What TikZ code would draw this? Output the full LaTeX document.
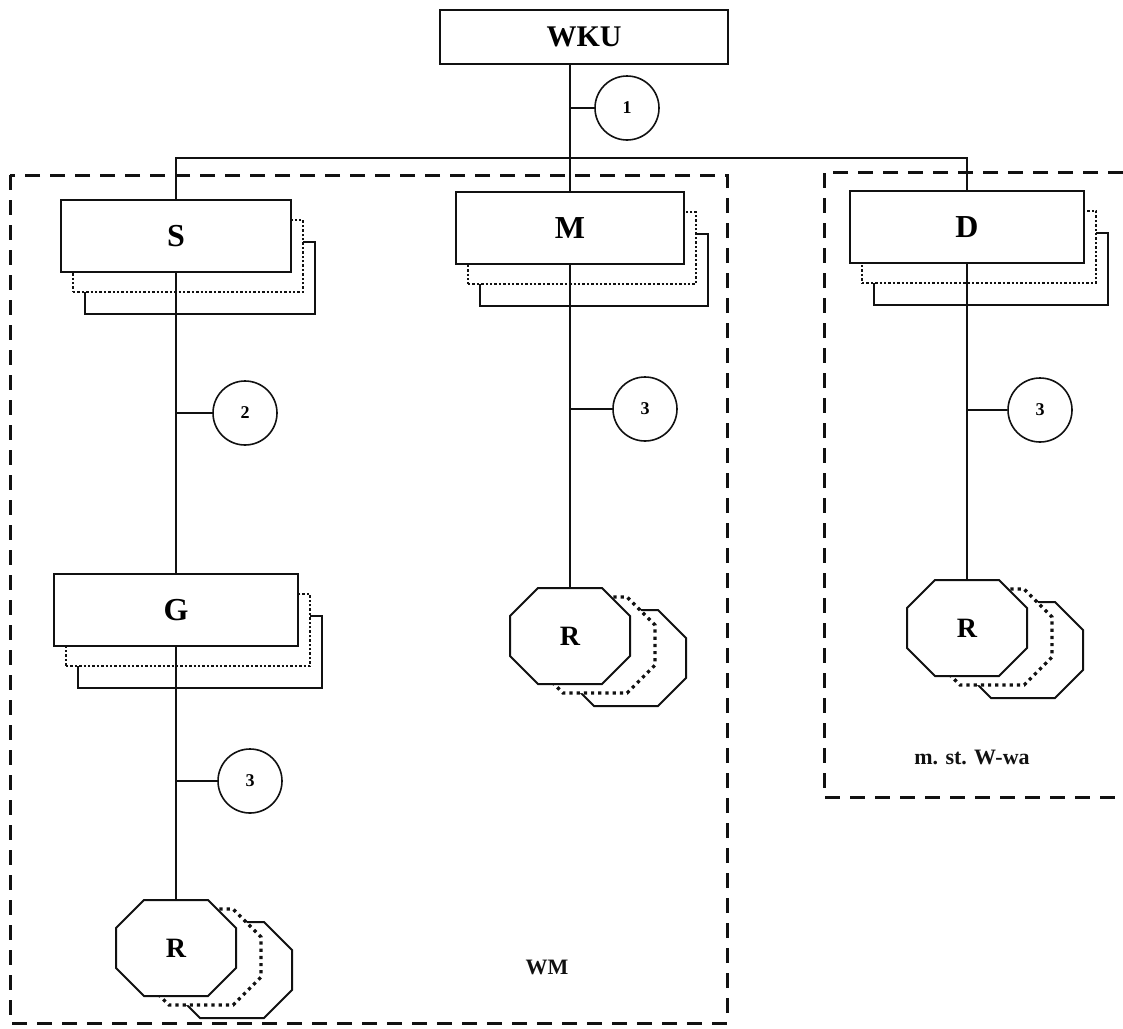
\documentclass[tikz,border=0pt]{standalone}
\usepackage{fontspec}
\setmainfont{Liberation Serif}
\usetikzlibrary{positioning,calc}
\definecolor{cInk}{HTML}{111111}
\tikzset{
  unit/.style={draw=cInk, line width=0.8pt, fill=white, minimum width=116pt,
               minimum height=36pt, inner sep=0pt,
               font=\fontsize{16}{18}\selectfont\bfseries},
  ghost/.style={unit, line width=1.2pt, dash pattern=on 1.2pt off 1pt},
  link/.style={draw=cInk, line width=0.7pt},
  num/.style={circle, draw=cInk, line width=0.8pt, fill=white, minimum size=32pt,
              inner sep=0pt, font=\fontsize{9}{10}\selectfont\bfseries},
  frame/.style={draw=cInk, line width=1.5pt, dash pattern=on 7.5pt off 5pt},
  tag/.style={font=\fontsize{11}{12}\selectfont\bfseries, text=cInk},
  rlbl/.style={minimum width=60pt, minimum height=48pt, inner sep=0pt,
               font=\fontsize{14}{16}\selectfont\bfseries},
  octa/.pic={\path[pic actions] (-32,-48) -- (32,-48) -- (60,-20) -- (60,20)
             -- (32,48) -- (-32,48) -- (-60,20) -- (-60,-20) -- cycle;}
}

\begin{document}
\begin{tikzpicture}[x=0.5pt, y=-0.5pt]
\useasboundingbox (0,0) rectangle (1123,1028);
% frames
\draw[frame] (10,175) rectangle (727,1023);
\draw[frame] (1123,172) -- (824,172) -- (824,797) -- (1123,797);
\node[tag] (wm) at (547,967) {WM};
\node[tag] (wwa) at (972,757) {m. st. W-wa};

\node[unit, minimum width=144pt, minimum height=27pt,
      font=\fontsize{15}{18}\selectfont\bfseries] (wku) at (584,37) {WKU};

% stacked units
\foreach \n/\x/\y/\w in {S/176/236/115, M/570/228/114, D/967/227/117, G/176/610/122}
  {\node[unit, minimum width=\w pt] at (\x+24,\y+42) {};
   \node[ghost, minimum width=\w pt] at (\x+12,\y+20) {};
   \node[unit, minimum width=\w pt] (\n) at (\x,\y) {\n};}

% stacked R
\foreach \n/\x/\y in {R1/176/948, R2/570/636, R3/967/628}
  {\pic[draw=cInk, fill=white, line width=1pt] at (\x+56,\y+22) {octa};
   \pic[draw=cInk, fill=white, line width=1.6pt, dash pattern=on 1.6pt off 2pt]
       at (\x+25,\y+9) {octa};
   \pic[draw=cInk, fill=white, line width=1pt] at (\x,\y) {octa};
   \node[rlbl] (\n) at (\x,\y) {R};}

\coordinate (bus) at (570,158);
\draw[link] (M.north) -- (M.north |- wku.south);
\draw[link] (S.north) -- (S.north |- bus) -- (D.north |- bus) -- (D.north);
\draw[link] (S.south) -- (G.north);
\draw[link] (G.south) -- (R1.north);
\draw[link] (M.south) -- (R2.north);
\draw[link] (D.south) -- (R3.north);

% numbered links
\node[num] (c1) at (627,108) {1};
\node[num] (c2) at (245,413) {2};
\node[num] (c3) at (645,409) {3};
\node[num] (c4) at (1040,410) {3};
\node[num] (c5) at (250,781) {3};
\draw[link] (c1.west) -- (c1.west -| M.north);
\draw[link] (c2.west) -- (c2.west -| S.south);
\draw[link] (c3.west) -- (c3.west -| M.south);
\draw[link] (c4.west) -- (c4.west -| D.south);
\draw[link] (c5.west) -- (c5.west -| G.south);
\end{tikzpicture}
\end{document}
